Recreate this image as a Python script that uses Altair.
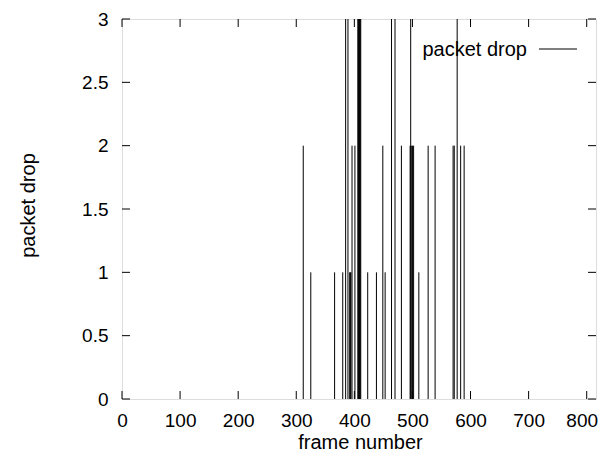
import altair as alt
import pandas as pd

# impulse data: frame number -> packet drop count (only nonzero frames)
frames_1 = [325, 366, 380, 392, 393, 394, 423, 438, 453, 511]
frames_2 = [312, 396, 401, 449, 481, 496, 498, 500, 502, 527, 539, 570, 572, 583, 589]
frames_3 = [385, 389, 406, 407, 408, 409, 410, 411, 464, 470, 497, 577]

x_ticks = [0, 100, 200, 300, 400, 500, 600, 700, 800]
y_ticks = [0, 0.5, 1, 1.5, 2, 2.5, 3]

frames = frames_1 + frames_2 + frames_3
drops = [1] * len(frames_1) + [2] * len(frames_2) + [3] * len(frames_3)
df = pd.DataFrame({"frame": frames, "drops": drops})
xt = pd.DataFrame({"t": x_ticks})
yt = pd.DataFrame({"t": y_ticks})

W, H = 474, 380
FONT = "Liberation Sans"

xscale = alt.Scale(domain=[0, 816], nice=False, zero=False)
yscale = alt.Scale(domain=[0, 3], nice=False)

impulses = alt.Chart(df).mark_rule(color="#000000", strokeWidth=1).encode(
    x=alt.X("frame:Q", scale=xscale,
            axis=alt.Axis(values=x_ticks, ticks=False, domain=False, grid=False,
                          title="frame number", titleFontSize=20, titleFont=FONT,
                          titleFontWeight="normal", titleBaseline="alphabetic",
                          titleY=49, titleX=W / 2 + 1,
                          labelFontSize=19, labelFont=FONT, labelColor="#000",
                          labelBaseline="alphabetic", labelPadding=27,
                          labelOffset={"condition": {"test": "datum.value == 800", "value": -5},
                                       "value": 0},
                          labelFlush=False, labelOverlap=False)),
    y=alt.Y("drops:Q", scale=yscale,
            axis=alt.Axis(values=y_ticks, ticks=False, domain=False, grid=False,
                          title="packet drop", titleFontSize=20, titleFont=FONT,
                          titleFontWeight="normal", titleAngle=-90,
                          titleBaseline="middle", titleAlign="center",
                          titleX=-94, titleY=186,
                          labelFontSize=19, labelFont=FONT, labelColor="#000",
                          labelPadding=14, labelFlush=False, labelOverlap=False,
                          format="~g")),
    y2=alt.datum(0),
)

xt_bottom = alt.Chart(xt).mark_rule(color="#000", strokeWidth=1).encode(
    x=alt.X("t:Q", scale=xscale), y=alt.value(H), y2=alt.value(H - 8))
xt_top = alt.Chart(xt).mark_rule(color="#000", strokeWidth=1).encode(
    x=alt.X("t:Q", scale=xscale), y=alt.value(0), y2=alt.value(8))
yt_left = alt.Chart(yt).mark_rule(color="#000", strokeWidth=1).encode(
    y=alt.Y("t:Q", scale=yscale), x=alt.value(0), x2=alt.value(8))
yt_right = alt.Chart(yt).mark_rule(color="#000", strokeWidth=1).encode(
    y=alt.Y("t:Q", scale=yscale), x=alt.value(W), x2=alt.value(W - 8))

legend_text = alt.Chart(pd.DataFrame({"label": ["packet drop"]})).mark_text(
    align="right", baseline="middle", fontSize=20, font=FONT, color="#000"
).encode(x=alt.value(405), y=alt.value(31), text="label:N")
legend_line = alt.Chart(pd.DataFrame({"label": ["packet drop"]})).mark_rule(
    color="#000", strokeWidth=1
).encode(x=alt.value(417), x2=alt.value(455), y=alt.value(30), detail="label:N")

chart = alt.layer(
    impulses, xt_bottom, xt_top, yt_left, yt_right, legend_text, legend_line
).properties(
    width=W, height=H,
    autosize=alt.AutoSizeParams(type="none"),
    padding={"left": 114, "top": 11, "right": 3, "bottom": 53},
).configure_view(
    stroke="#000000", strokeWidth=1
).configure(background="white")

chart.save("out.html", embed_options={"renderer": "svg", "actions": False})
